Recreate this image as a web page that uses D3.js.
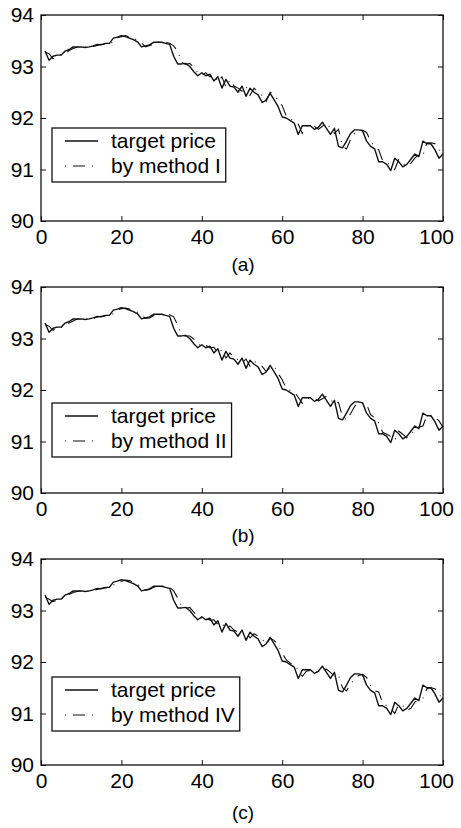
<!DOCTYPE html>
<html>
<head>
<meta charset="utf-8">
<script src="https://cdn.jsdelivr.net/npm/d3@7"></script>
<style>
  body { margin: 0; background: #fff; }
  svg { display: block; }
  text { font-family: "Liberation Sans", Arial, Helvetica, sans-serif; fill: #000; }
</style>
</head>
<body>
<svg id="chart" width="461" height="828"></svg>
<script>
// ---- data -------------------------------------------------------------
const steps = d3.range(1, 101);
const xTicks = [0, 20, 40, 60, 80, 100];
const yTicks = [90, 91, 92, 93, 94];

const targetPrice = [
  93.30, 93.12, 93.20, 93.22, 93.22, 93.30, 93.33, 93.38, 93.38, 93.38,
  93.37, 93.38, 93.40, 93.43, 93.42, 93.45, 93.45, 93.55, 93.57, 93.60,
  93.58, 93.55, 93.52, 93.48, 93.38, 93.40, 93.42, 93.47, 93.47, 93.47,
  93.45, 93.43, 93.20, 93.05, 93.05, 93.06, 93.00, 92.90, 92.82, 92.88,
  92.82, 92.85, 92.72, 92.80, 92.58, 92.75, 92.62, 92.60, 92.50, 92.62,
  92.42, 92.58, 92.50, 92.45, 92.30, 92.35, 92.48, 92.35, 92.22, 92.02,
  92.00, 91.95, 91.90, 91.68, 91.85, 91.85, 91.85, 91.78, 91.82, 91.92,
  91.80, 91.68, 91.80, 91.45, 91.42, 91.55, 91.70, 91.77, 91.77, 91.75,
  91.55, 91.45, 91.40, 91.15, 91.15, 91.10, 90.98, 91.22, 91.15, 91.05,
  91.10, 91.20, 91.30, 91.25, 91.55, 91.50, 91.50, 91.38, 91.22, 91.30
];

const methodI = [
  93.28, 93.25, 93.15, 93.20, 93.23, 93.24, 93.31, 93.35, 93.38, 93.38,
  93.38, 93.37, 93.39, 93.41, 93.43, 93.43, 93.46, 93.47, 93.56, 93.58,
  93.60, 93.57, 93.55, 93.51, 93.46, 93.38, 93.41, 93.43, 93.48, 93.47,
  93.47, 93.45, 93.40, 93.30, 93.08, 93.04, 93.06, 92.98, 92.88, 92.82,
  92.88, 92.80, 92.84, 92.70, 92.80, 92.60, 92.74, 92.62, 92.58, 92.52,
  92.62, 92.44, 92.58, 92.50, 92.44, 92.32, 92.50, 92.45, 92.35, 92.24,
  92.04, 91.98, 91.95, 91.88, 91.70, 91.84, 91.85, 91.84, 91.78, 91.84,
  91.90, 91.80, 91.70, 91.78, 91.45, 91.40, 91.58, 91.70, 91.77, 91.76,
  91.72, 91.55, 91.45, 91.38, 91.17, 91.14, 91.08, 91.00, 91.20, 91.12,
  91.06, 91.12, 91.22, 91.30, 91.28, 91.52, 91.52, 91.50, 91.40, 91.26
];

const methodII = [
  93.27, 93.24, 93.16, 93.21, 93.22, 93.25, 93.30, 93.34, 93.38, 93.38,
  93.38, 93.37, 93.39, 93.42, 93.43, 93.44, 93.45, 93.48, 93.55, 93.58,
  93.59, 93.57, 93.54, 93.51, 93.45, 93.39, 93.40, 93.44, 93.47, 93.47,
  93.47, 93.46, 93.42, 93.26, 93.07, 93.05, 93.05, 92.99, 92.90, 92.84,
  92.87, 92.82, 92.83, 92.72, 92.78, 92.62, 92.72, 92.63, 92.59, 92.53,
  92.60, 92.46, 92.56, 92.51, 92.46, 92.36, 92.44, 92.46, 92.32, 92.20,
  92.03, 91.99, 91.96, 91.86, 91.74, 91.83, 91.84, 91.83, 91.79, 91.83,
  91.88, 91.82, 91.72, 91.76, 91.48, 91.42, 91.54, 91.68, 91.76, 91.75,
  91.72, 91.52, 91.46, 91.36, 91.18, 91.14, 91.10, 91.02, 91.20, 91.14,
  91.07, 91.12, 91.24, 91.28, 91.30, 91.50, 91.50, 91.48, 91.40, 91.28
];

const methodIV = [
  93.26, 93.22, 93.17, 93.20, 93.23, 93.26, 93.31, 93.35, 93.37, 93.38,
  93.38, 93.38, 93.39, 93.41, 93.43, 93.44, 93.45, 93.49, 93.55, 93.57,
  93.59, 93.58, 93.55, 93.51, 93.44, 93.39, 93.41, 93.45, 93.47, 93.48,
  93.46, 93.45, 93.38, 93.24, 93.08, 93.04, 93.06, 92.97, 92.89, 92.84,
  92.86, 92.81, 92.82, 92.73, 92.76, 92.63, 92.70, 92.62, 92.58, 92.54,
  92.58, 92.47, 92.55, 92.50, 92.45, 92.34, 92.46, 92.42, 92.32, 92.18,
  92.04, 91.98, 91.94, 91.84, 91.72, 91.82, 91.84, 91.83, 91.80, 91.84,
  91.86, 91.80, 91.72, 91.74, 91.50, 91.44, 91.58, 91.66, 91.74, 91.76,
  91.70, 91.54, 91.44, 91.42, 91.20, 91.15, 91.10, 91.00, 91.18, 91.15,
  91.06, 91.10, 91.22, 91.28, 91.30, 91.48, 91.50, 91.48, 91.38, 91.26
];

const captions = ["(a)", "(b)", "(c)"];
const legendLabels = ["target price", "by method I", "by method II", "by method IV"];
const predictions = [methodI, methodII, methodIV];

// ---- layout -----------------------------------------------------------
const left = 41, plotW = 402, plotH = 206;
const panelTops = [15, 287, 559];
const captionGaps = [50, 49, 54];
const legendTops = [113, 116, 118];
const DASH_DOT = "12,7,1,7";

const svg = d3.select("#chart");

const x = d3.scaleLinear().domain([0, 100]).range([0, plotW]);
const y = d3.scaleLinear().domain([90, 94]).range([plotH, 0]);

const line = d3.line()
  .x((d, i) => x(steps[i]))
  .y(d => y(d));

const styleAxis = sel => {
  sel.select(".domain").remove();
  sel.selectAll(".tick line").attr("stroke", "#111").attr("stroke-width", 1);
  sel.selectAll(".tick text")
    .attr("font-size", 21)
    .attr("fill", "#000")
    .style("font-family", "'Liberation Sans', Arial, sans-serif");
};

panelTops.forEach((top, p) => {
  const g = svg.append("g").attr("transform", `translate(${left},${top})`);

  // predicted series (dash-dot) under the target series
  g.append("path")
    .datum(predictions[p])
    .attr("d", line)
    .attr("fill", "none")
    .attr("stroke", "#111")
    .attr("stroke-width", 1.1)
    .attr("stroke-dasharray", DASH_DOT);

  g.append("path")
    .datum(targetPrice)
    .attr("d", line)
    .attr("fill", "none")
    .attr("stroke", "#111")
    .attr("stroke-width", 1.4)
    .attr("stroke-linejoin", "round");

  // axes with inward ticks on all four sides
  const bottomAxis = g.append("g").attr("transform", `translate(0,${plotH})`)
    .call(d3.axisBottom(x).tickValues(xTicks).tickFormat(d3.format("d"))
      .tickSizeInner(-5).tickSizeOuter(0).tickPadding(8))
    .call(styleAxis);
  // keep the last label inside the page
  bottomAxis.selectAll(".tick text").filter(d => d === 100).attr("dx", -7);

  g.append("g")
    .call(d3.axisLeft(y).tickValues(yTicks).tickFormat(d3.format("d"))
      .tickSizeInner(-5).tickSizeOuter(0).tickPadding(7))
    .call(styleAxis);
  g.append("g")
    .call(d3.axisTop(x).tickValues(xTicks).tickSizeInner(-5).tickSizeOuter(0).tickFormat(""))
    .call(styleAxis);
  g.append("g").attr("transform", `translate(${plotW},0)`)
    .call(d3.axisRight(y).tickValues(yTicks).tickSizeInner(-5).tickSizeOuter(0).tickFormat(""))
    .call(styleAxis);

  g.append("rect")
    .attr("width", plotW).attr("height", plotH)
    .attr("fill", "none").attr("stroke", "#111").attr("stroke-width", 1.3);

  // legend
  const lg = g.append("g").attr("transform", `translate(11,${legendTops[p]})`);
  const box = lg.append("rect").attr("height", 54).attr("fill", "#fff")
    .attr("stroke", "#111").attr("stroke-width", 1.3);
  const labels = [legendLabels[0], legendLabels[p + 1]];
  let maxW = 0;
  labels.forEach((t, r) => {
    const by = 20 + r * 25;
    lg.append("line")
      .attr("x1", 13).attr("x2", 46).attr("y1", by - 7).attr("y2", by - 7)
      .attr("stroke", "#111").attr("stroke-width", r === 0 ? 1.4 : 1.1)
      .attr("stroke-dasharray", r === 0 ? null : DASH_DOT)
      .attr("stroke-dashoffset", r === 0 ? null : 19);
    const tx = lg.append("text").attr("x", 59).attr("y", by)
      .attr("font-size", 21).text(t);
    maxW = Math.max(maxW, tx.node().getComputedTextLength());
  });
  box.attr("width", 59 + maxW + 5);

  // caption
  svg.append("text")
    .attr("x", left + plotW / 2 + 1)
    .attr("y", top + plotH + captionGaps[p])
    .attr("text-anchor", "middle")
    .attr("font-size", 19)
    .text(captions[p]);
});
</script>
</body>
</html>
